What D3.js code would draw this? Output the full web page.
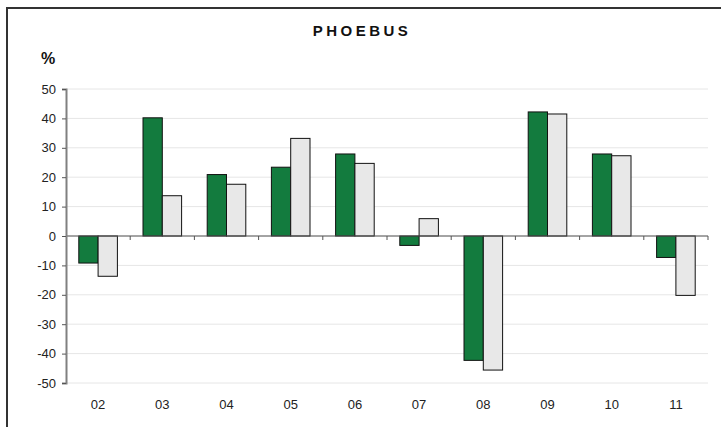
<!DOCTYPE html>
<html>
<head>
<meta charset="utf-8">
<script src="https://cdn.jsdelivr.net/npm/d3@7"></script>
<style>
  body { margin: 0; background: white; }
  svg { display: block; font-family: "Liberation Sans", Arial, sans-serif; }
</style>
</head>
<body>
<script>
const width = 721;
const height = 427;

// data
const years = ["02", "03", "04", "05", "06", "07", "08", "09", "10", "11"];
const series_green = [-9.2, 40.2, 20.9, 23.4, 27.9, -3.2, -42.3, 42.2, 27.9, -7.3];
const series_grey = [-13.7, 13.7, 17.6, 33.2, 24.7, 5.9, -45.6, 41.5, 27.3, -20.2];
const y_ticks = [50, 40, 30, 20, 10, 0, -10, -20, -30, -40, -50];

const x_range = [66, 708];
const y_range = [383, 89];

let svg = d3.select("body")
    .append("svg")
    .attr("width", width)
    .attr("height", height);

// frame (left + top only visible)
svg.append("rect")
    .attr("x", 7)
    .attr("y", 8)
    .attr("width", 800)
    .attr("height", 600)
    .attr("fill", "white")
    .attr("stroke", "#333")
    .attr("stroke-width", 2);

let xScale = d3.scaleBand()
    .domain(years)
    .range(x_range)
    .paddingInner(0)
    .paddingOuter(0);

let yScale = d3.scaleLinear()
    .domain([-50, 50])
    .range(y_range);

// gridlines
svg.append("g")
    .selectAll("line")
    .data(y_ticks)
    .enter()
    .append("line")
    .attr("x1", x_range[0])
    .attr("x2", x_range[1])
    .attr("y1", d => yScale(d))
    .attr("y2", d => yScale(d))
    .attr("stroke", "#e6e6e6")
    .attr("stroke-width", 1);

// bars
const bar_w = 19.3;
const groups = svg.append("g");
const bar_data = years.map((y, i) => ({ year: y, green: series_green[i], grey: series_grey[i] }));

groups.selectAll(".bar-green")
    .data(bar_data)
    .enter()
    .append("rect")
    .attr("class", "bar-green")
    .attr("x", d => xScale(d.year) + xScale.bandwidth() / 2 - bar_w)
    .attr("y", d => yScale(Math.max(0, d.green)))
    .attr("width", bar_w)
    .attr("height", d => Math.abs(yScale(d.green) - yScale(0)))
    .attr("fill", "#137b3e")
    .attr("stroke", "#111")
    .attr("stroke-width", 1);

groups.selectAll(".bar-grey")
    .data(bar_data)
    .enter()
    .append("rect")
    .attr("class", "bar-grey")
    .attr("x", d => xScale(d.year) + xScale.bandwidth() / 2)
    .attr("y", d => yScale(Math.max(0, d.grey)))
    .attr("width", bar_w)
    .attr("height", d => Math.abs(yScale(d.grey) - yScale(0)))
    .attr("fill", "#e8e8e8")
    .attr("stroke", "#111")
    .attr("stroke-width", 1);

// x axis at zero
let x_axis = svg.append("g")
    .attr("transform", `translate(0, ${yScale(0)})`);
x_axis.append("line")
    .attr("x1", x_range[0])
    .attr("x2", x_range[1])
    .attr("stroke", "#555")
    .attr("stroke-width", 1);
x_axis.selectAll(".xtick")
    .data(years.slice(1).map(y => xScale(y)).concat([x_range[1]]))
    .enter()
    .append("line")
    .attr("class", "xtick")
    .attr("x1", d => d)
    .attr("x2", d => d)
    .attr("y1", 0)
    .attr("y2", 4)
    .attr("stroke", "#555");

// category labels
svg.append("g")
    .selectAll("text")
    .data(years)
    .enter()
    .append("text")
    .attr("x", d => xScale(d) + xScale.bandwidth() / 2)
    .attr("y", 409)
    .attr("text-anchor", "middle")
    .style("font-size", "13px")
    .style("fill", "#222")
    .text(d => d);

// y axis
let y_axis = d3.axisLeft(yScale)
    .tickValues(y_ticks)
    .tickSize(4)
    .tickPadding(6)
    .tickFormat(d => d);

let yg = svg.append("g")
    .attr("transform", `translate(${x_range[0]}, 0)`)
    .call(y_axis);
yg.select(".domain")
    .attr("stroke", "#808080")
    .attr("stroke-width", 2);
yg.selectAll(".tick line")
    .attr("stroke", "#555");
yg.selectAll(".tick text")
    .style("font-size", "13px")
    .style("font-family", "Liberation Sans, Arial, sans-serif")
    .attr("fill", "#222");

// title and unit
svg.append("text")
    .attr("x", 362)
    .attr("y", 36)
    .attr("text-anchor", "middle")
    .style("font-size", "15px")
    .style("font-weight", "bold")
    .style("letter-spacing", "3.5px")
    .style("fill", "#111")
    .text("PHOEBUS");

svg.append("text")
    .attr("x", 41)
    .attr("y", 64)
    .style("font-size", "16px")
    .style("font-weight", "bold")
    .style("fill", "#111")
    .text("%");
</script>
</body>
</html>
